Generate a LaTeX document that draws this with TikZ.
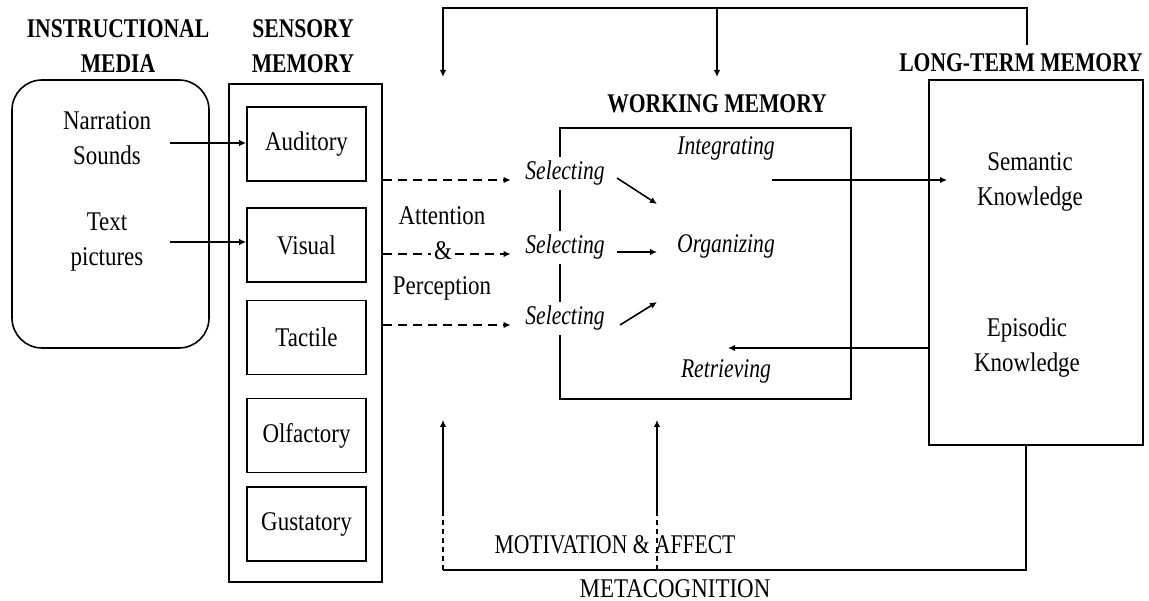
\documentclass[tikz,border=0pt]{standalone}
\usepackage{fontspec}
\setmainfont{Liberation Serif}[FakeStretch=0.85]
\newfontfamily\headfont{Liberation Serif}[FakeStretch=0.8]
\newfontfamily\procfont{Liberation Serif}[FakeStretch=0.8]
\usetikzlibrary{arrows.meta}

\begin{document}
\begin{tikzpicture}[
  x=1pt, y=-1pt,
  line width=1.6pt,
  font=\fontsize{27}{35}\selectfont,
  head/.style={font=\headfont\bfseries\fontsize{27}{35}\selectfont, align=center, inner sep=0pt},
  txt/.style={align=center, inner sep=2pt},
  capslabel/.style={font=\headfont\fontsize{27}{35}\selectfont, inner sep=2pt},
  box/.style={draw, inner sep=0pt},
  sensebox/.style={draw, inner sep=0pt, minimum width=119pt, minimum height=74pt},
  proc/.style={font=\procfont\itshape\fontsize{27}{35}\selectfont, inner sep=4pt},
  selbox/.style={proc, fill=white},
  arr/.style={-{Latex[length=7pt,width=6.5pt]}},
  dasharr/.style={arr, dash pattern=on 9pt off 6pt},
  dashseg/.style={dash pattern=on 9pt off 6pt},
  dotseg/.style={dash pattern=on 5pt off 4pt}
]
\useasboundingbox (0,0) rectangle (1149,601);

% ---- Instructional media ----
\node[head] (hmed) at (118,46.5) {INSTRUCTIONAL\\MEDIA};
\node[draw, rounded corners=30pt, minimum width=197pt, minimum height=268pt, inner sep=0pt] (media) at (110.5,214) {};
\node[txt] (narr) at (107,138.5) {Narration\\Sounds};
\node[txt] (tpic) at (107,242) {Text\\pictures};

% ---- Sensory memory ----
\node[head] (hsens) at (303,46.5) {SENSORY\\MEMORY};
\node[box, minimum width=153pt, minimum height=498pt] (sens) at (305.5,333) {};
\node[sensebox] (aud) at (306.5,144) {Auditory};
\node[sensebox] (vis) at (306.5,245) {Visual};
\node[sensebox] (tac) at (306.5,337.5) {Tactile};
\node[sensebox] (olf) at (306.5,435.5) {Olfactory};
\node[sensebox] (gus) at (306.5,524) {Gustatory};

\coordinate (n1) at (170,143);
\coordinate (t1) at (170,242);
\draw[arr] (n1) -- (n1 -| aud.west);
\draw[arr] (t1) -- (t1 -| vis.west);

% ---- Working memory ----
\node[head, anchor=base] (hwm) at (717,113) {WORKING MEMORY};
\node[box, minimum width=291pt, minimum height=271pt] (wm) at (705.5,263.5) {};
\node[selbox, anchor=base] (sel1) at (565,180) {Selecting};
\node[selbox, anchor=base] (sel2) at (565,254) {Selecting};
\node[selbox, anchor=base] (sel3) at (565,325) {Selecting};
\node[proc, anchor=base] (intg) at (726,155) {Integrating};
\node[proc, anchor=base] (org) at (726,253) {Organizing};
\node[proc, anchor=base] (retr) at (726,378) {Retrieving};

% attention and perception
\node[txt, anchor=base] (att) at (442,225) {Attention};
\node[txt, anchor=base] (amp) at (443,260) {\&};
\node[txt, anchor=base] (perc) at (442,295) {Perception};

\draw[dasharr] (sens.east |- sel1.base) -- ([xshift=-10pt]sel1.base west);
\draw[dashseg] (sens.east |- sel2.base) -- (amp.west |- sel2.base);
\draw[dasharr] (amp.east |- sel2.base) -- ([xshift=-10pt]sel2.base west);
\draw[dasharr] (sens.east |- sel3.base) -- ([xshift=-10pt]sel3.base west);

% selecting -> organizing
\coordinate (p1s) at (617,178); \coordinate (p1e) at (657,204);
\coordinate (p2s) at (617,252); \coordinate (p2e) at (657,252);
\coordinate (p3s) at (620,325); \coordinate (p3e) at (657,302);
\draw[arr] (p1s) -- (p1e);
\draw[arr] (p2s) -- (p2e);
\draw[arr] (p3s) -- (p3e);

% ---- Long-term memory ----
\node[head, anchor=base] (hltm) at (1021,72) {LONG-TERM MEMORY};
\node[box, minimum width=214pt, minimum height=365pt] (ltm) at (1036,262.5) {};
\node[txt] (sem) at (1030,181.5) {Semantic\\Knowledge};
\node[txt] (epi) at (1027,348) {Episodic\\Knowledge};

% integrating -> semantic, episodic -> retrieving
\coordinate (i0) at (772,180);
\coordinate (s0) at (947,180);
\draw[arr] (i0) -- (s0);
\coordinate (r0) at (728,348);
\draw[arr] (r0 -| ltm.west) -- (r0);

% ---- top feedback loop ----
\coordinate (fb0) at (1027,45);
\coordinate (fbR) at (1027,8);
\coordinate (fbL) at (443,8);
\coordinate (fbA) at (443,77);
\coordinate (fbB) at (717,77);
\draw[arr] (fb0) -- (fbR) -- (fbL) -- (fbA);
\draw[arr] (fbB |- fbR) -- (fbB);

% ---- bottom loop: metacognition, motivation & affect ----
\coordinate (mbR) at (1026,570);
\coordinate (mbL) at (443,570);
\coordinate (mbM) at (657,570);
\coordinate (upAm) at (443,513);
\coordinate (upA) at (443,420);
\coordinate (upBm) at (657,513);
\coordinate (upB) at (657,420);
\draw (mbR |- ltm.south) -- (mbR) -- (mbL);
\draw[dotseg] (mbL) -- (upAm);
\draw[arr] (upAm) -- (upA);
\draw[dotseg] (mbM) -- (upBm);
\draw[arr] (upBm) -- (upB);

\node[capslabel, anchor=base] (motiv) at (615,553) {MOTIVATION \& AFFECT};
\node[txt, anchor=base] (meta) at (675,597) {METACOGNITION};

\end{tikzpicture}
\end{document}
